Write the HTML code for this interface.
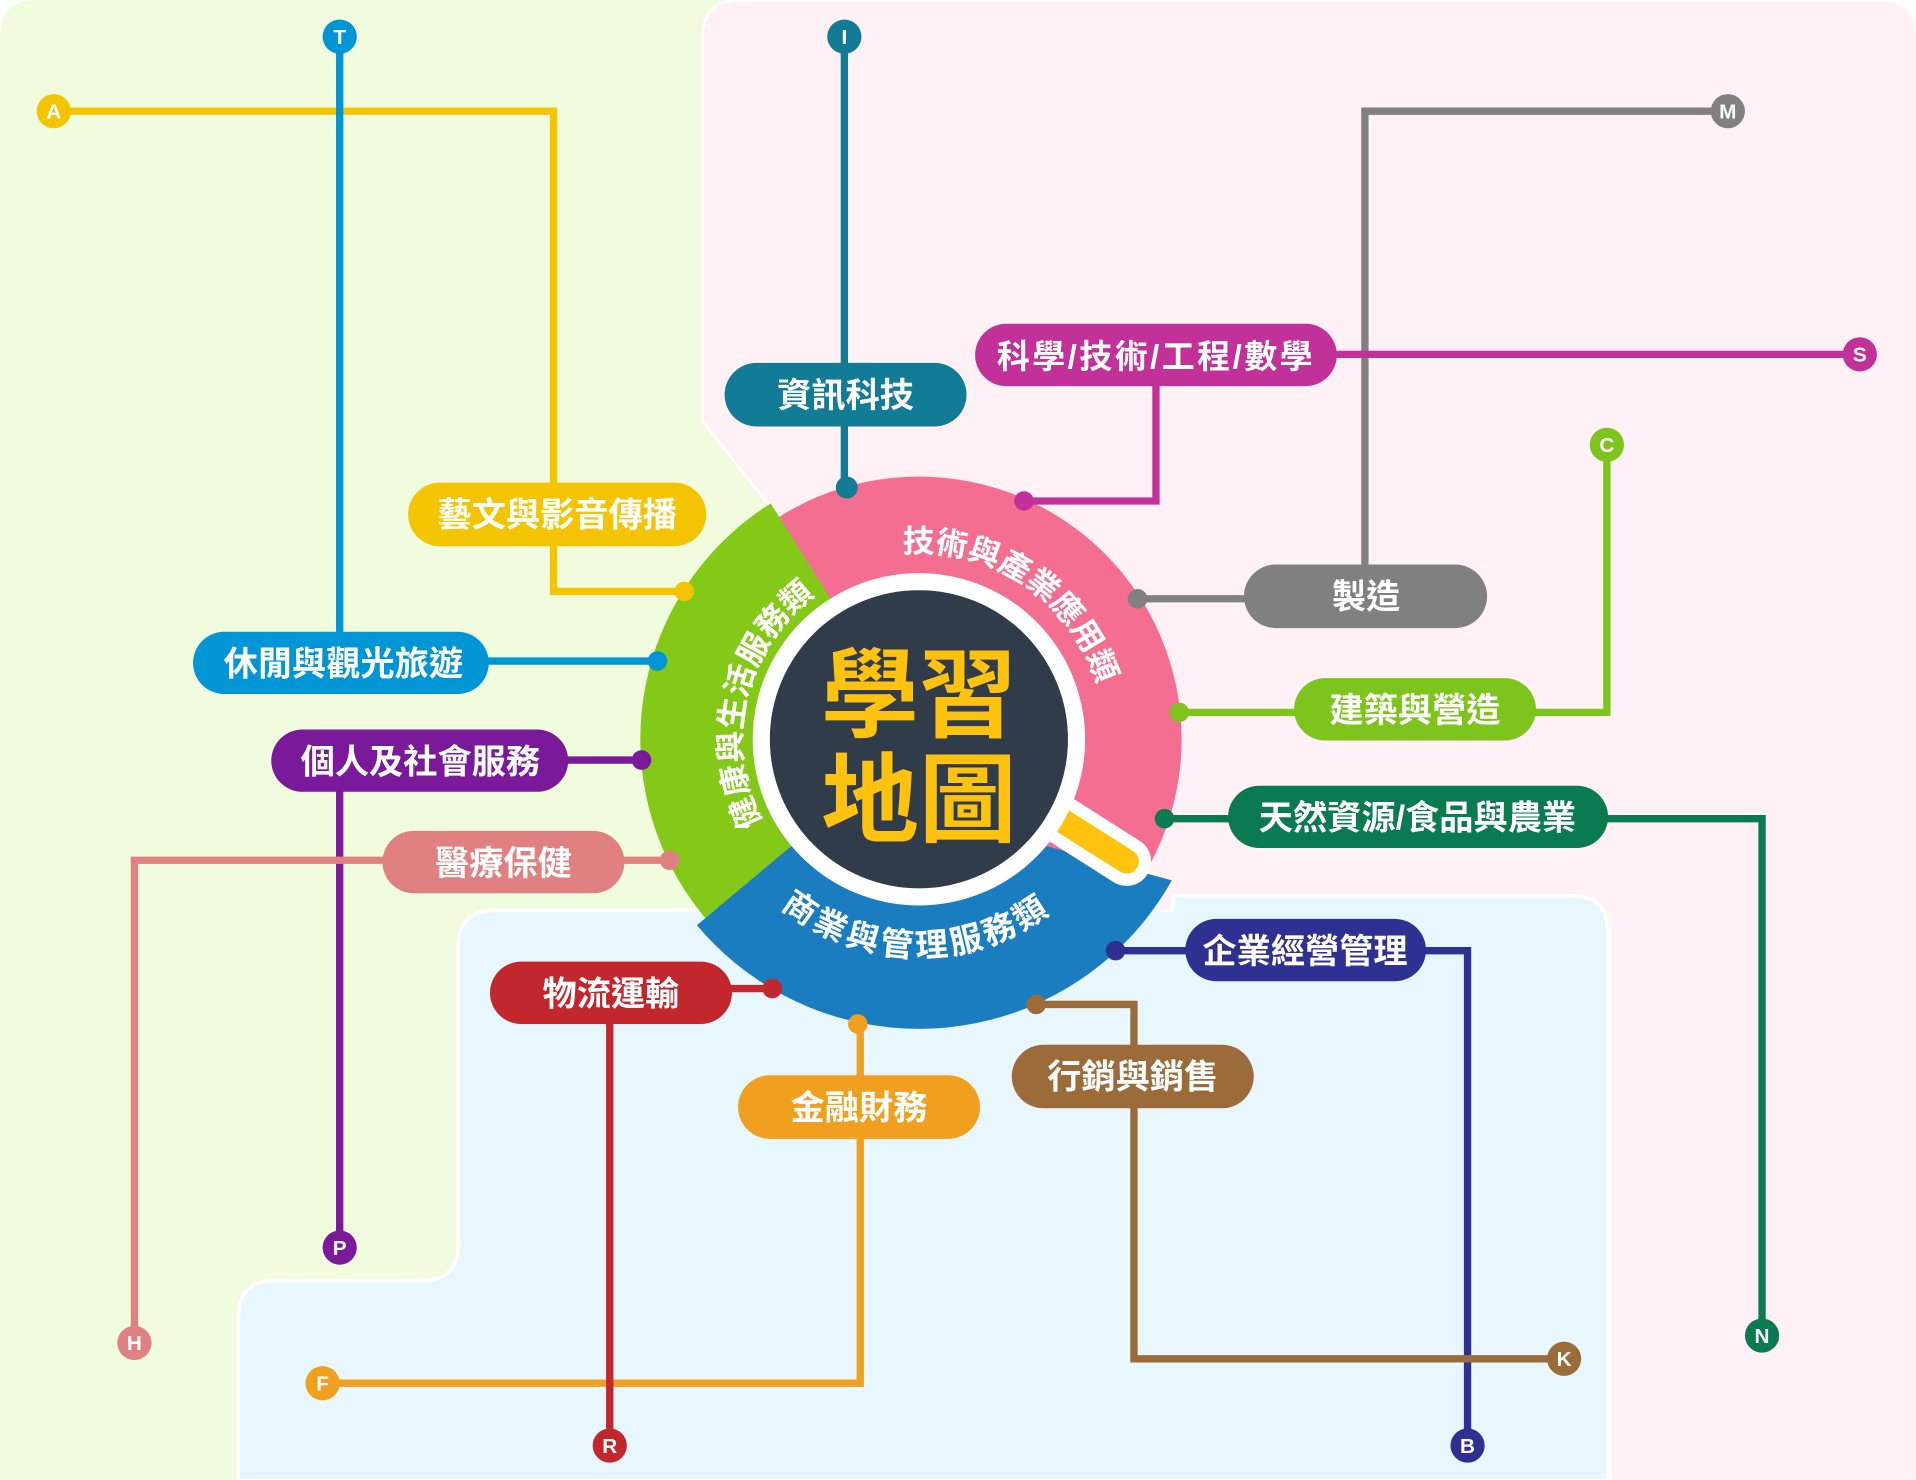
<!DOCTYPE html>
<html><head><meta charset="utf-8"><style>
html,body{margin:0;padding:0;background:#fff;}
svg{display:block;}
text{font-family:"Liberation Sans","Noto Sans CJK TC",sans-serif;font-weight:700;}
</style></head><body>
<svg width="1916" height="1480" viewBox="0 0 1568 1211.2" preserveAspectRatio="none" xmlns="http://www.w3.org/2000/svg">
<defs>
<clipPath id="cp"><circle cx="752" cy="605" r="215"/></clipPath>
<clipPath id="cg"><circle cx="752" cy="605" r="228"/></clipPath>
<clipPath id="cb"><circle cx="752" cy="605" r="237"/></clipPath>
<path id="pinkArc" d="M738.7,452.6 A153,153 0 0 1 905,605" fill="none"/>
<path id="greenArc" d="M624,673.1 A145,145 0 0 1 668.8,486.2" fill="none"/>
<path id="blueArc" d="M632.9,737.3 A178,178 0 0 0 877.9,730.9" fill="none"/>
</defs>
<path d="M0,30 Q0,0 30,0 L700,0 L700,1212 L0,1212 Z" fill="#F1FCDF"/>
<path d="M575,30 Q575,0 605,0 L1538,0 Q1568,0 1568,30 L1568,1212 L1318,1212 L1318,760 L760,760 L637,423 L575,345 Z" fill="#FFF1F5" stroke="#fff" stroke-width="2"/>
<path d="M375,775 Q375,745 405,745 L960,745 L960,733 L1286,733 Q1316,733 1316,763 L1316,1212 L195,1212 L195,1078 Q195,1048 225,1048 L345,1048 Q375,1048 375,1018 Z" fill="#E8F6FD" stroke="#fff" stroke-width="3"/>

<g clip-path="url(#cp)">
<rect x="500" y="380" width="500" height="480" fill="#F36E91"/>
</g>
<g clip-path="url(#cg)">
<polygon points="752,605 507,215 300,215 300,900 432,873" fill="#84C918"/>
</g>
<g clip-path="url(#cb)">
<polygon points="752,605 432,873 432,1000 1100,1000 1100,759 855,692" fill="#1A7DC0"/>
</g>
<line x1="870" y1="672" x2="922" y2="705" stroke="#fff" stroke-width="40" stroke-linecap="round"/>
<line x1="870" y1="672" x2="922" y2="705" stroke="#FFC20E" stroke-width="20" stroke-linecap="round"/>
<circle cx="752" cy="605" r="136" fill="#fff"/>
<circle cx="752" cy="605" r="122" fill="#313C4B"/>
<text x="752" y="597" font-size="80" fill="#FFC20E" text-anchor="middle" font-weight="900">學習</text>
<text x="752" y="683" font-size="80" fill="#FFC20E" text-anchor="middle" font-weight="900">地圖</text>
<text font-size="26" fill="#fff"><textPath href="#pinkArc">技術與產業應用類</textPath></text>
<text font-size="26" fill="#fff"><textPath href="#greenArc">健康與生活服務類</textPath></text>
<text font-size="27" fill="#fff" letter-spacing="3"><textPath href="#blueArc" startOffset="8">商業與管理服務類</textPath></text>

<g fill="none" stroke-width="6" stroke-linejoin="miter">
<polyline points="44,91 453,91 453,484 560,484" stroke="#F5C400"/>
<polyline points="278,30 278,541 538,541" stroke="#0095D5"/>
<polyline points="691,30 691,399" stroke="#127C96"/>
<polyline points="1414,91 1117,91 1117,490 931,490" stroke="#808080"/>
<polyline points="1522,290 1000,290" stroke="#C2309A"/>
<polyline points="946,300 946,410 838,410" stroke="#C2309A"/>
<polyline points="1315,364 1315,583 965,583" stroke="#7DC51C"/>
<polyline points="953,670 1442,670 1442,1093" stroke="#0A7A50"/>
<polyline points="913,778 1201,778 1201,1183" stroke="#2E3192"/>
<polyline points="848,822 928,822 928,1112 1280,1112" stroke="#9C6B3A"/>
<polyline points="702,838 704,838 704,1132 264,1132" stroke="#F0A01E"/>
<polyline points="632,809 560,809" stroke="#C1272D"/>
<polyline points="499,820 499,1183" stroke="#C1272D"/>
<polyline points="525,622 400,622" stroke="#7A1A9A"/>
<polyline points="278,630 278,1021" stroke="#7A1A9A"/>
<polyline points="548,704 110,704 110,1099" stroke="#E08080"/>
</g>

<g>
<circle cx="560" cy="484" r="8" fill="#F5C400"/>
<circle cx="538" cy="541" r="8" fill="#0095D5"/>
<circle cx="693" cy="399" r="9" fill="#127C96"/>
<circle cx="931" cy="490" r="8" fill="#808080"/>
<circle cx="838" cy="410" r="8" fill="#C2309A"/>
<circle cx="965" cy="583" r="8" fill="#7DC51C"/>
<circle cx="953" cy="670" r="8" fill="#0A7A50"/>
<circle cx="913" cy="778" r="8" fill="#2E3192"/>
<circle cx="848" cy="822" r="8" fill="#9C6B3A"/>
<circle cx="702" cy="838" r="8" fill="#F0A01E"/>
<circle cx="632" cy="809" r="8" fill="#C1272D"/>
<circle cx="525" cy="622" r="8" fill="#7A1A9A"/>
<circle cx="548" cy="704" r="8" fill="#E08080"/>
</g>

<g font-size="28" fill="#fff" text-anchor="middle">
<rect x="334" y="395" width="244" height="52" rx="26" fill="#F5C400"/><text x="456" y="431" fill="#fff">藝文與影音傳播</text>
<rect x="158" y="517" width="242" height="51" rx="25.5" fill="#0095D5"/><text x="281" y="553" fill="#fff">休閒與觀光旅遊</text>
<rect x="593" y="297" width="198" height="52" rx="26" fill="#127C96"/><text x="692" y="333" fill="#fff">資訊科技</text>
<rect x="798" y="265" width="296" height="51" rx="25.5" fill="#C2309A"/><text x="946" y="301" fill="#fff" font-size="27" letter-spacing="2">科學/技術/工程/數學</text>
<rect x="1018" y="462" width="199" height="52" rx="26" fill="#808080"/><text x="1118" y="498" fill="#fff">製造</text>
<rect x="1059" y="555" width="198" height="51" rx="25.5" fill="#7DC51C"/><text x="1158" y="591" fill="#fff">建築與營造</text>
<rect x="1005" y="643" width="311" height="51" rx="25.5" fill="#0A7A50"/><text x="1160" y="679" fill="#fff">天然資源/食品與農業</text>
<rect x="970" y="752" width="197" height="51" rx="25.5" fill="#2E3192"/><text x="1068" y="788" fill="#fff">企業經營管理</text>
<rect x="828" y="855" width="198" height="52" rx="26" fill="#9C6B3A"/><text x="927" y="891" fill="#fff">行銷與銷售</text>
<rect x="604" y="880" width="198" height="52" rx="26" fill="#F0A01E"/><text x="703" y="916" fill="#fff">金融財務</text>
<rect x="401" y="787" width="198" height="51" rx="25.5" fill="#C1272D"/><text x="500" y="823" fill="#fff">物流運輸</text>
<rect x="222" y="597" width="243" height="51" rx="25.5" fill="#7A1A9A"/><text x="344" y="633" fill="#fff">個人及社會服務</text>
<rect x="313" y="680" width="198" height="51" rx="25.5" fill="#E08080"/><text x="412" y="716" fill="#fff">醫療保健</text>
</g>

<g font-size="17" text-anchor="middle" fill="#fff">
<circle cx="278" cy="30" r="14" fill="#0095D5"/><text x="278" y="36">T</text>
<circle cx="691" cy="30" r="14" fill="#127C96"/><text x="691" y="36">I</text>
<circle cx="44" cy="91" r="14" fill="#F5C400"/><text x="44" y="97">A</text>
<circle cx="1414" cy="91" r="14" fill="#808080"/><text x="1414" y="97">M</text>
<circle cx="1522" cy="290" r="14" fill="#C2309A"/><text x="1522" y="296">S</text>
<circle cx="1315" cy="364" r="14" fill="#7DC51C"/><text x="1315" y="370">C</text>
<circle cx="1442" cy="1093" r="14" fill="#0A7A50"/><text x="1442" y="1099">N</text>
<circle cx="1201" cy="1183" r="14" fill="#2E3192"/><text x="1201" y="1189">B</text>
<circle cx="1280" cy="1112" r="14" fill="#9C6B3A"/><text x="1280" y="1118">K</text>
<circle cx="264" cy="1132" r="14" fill="#F0A01E"/><text x="264" y="1138">F</text>
<circle cx="499" cy="1183" r="14" fill="#C1272D"/><text x="499" y="1189">R</text>
<circle cx="278" cy="1021" r="14" fill="#7A1A9A"/><text x="278" y="1027">P</text>
<circle cx="110" cy="1099" r="14" fill="#E08080"/><text x="110" y="1105">H</text>
</g>
</svg>
</body></html>
